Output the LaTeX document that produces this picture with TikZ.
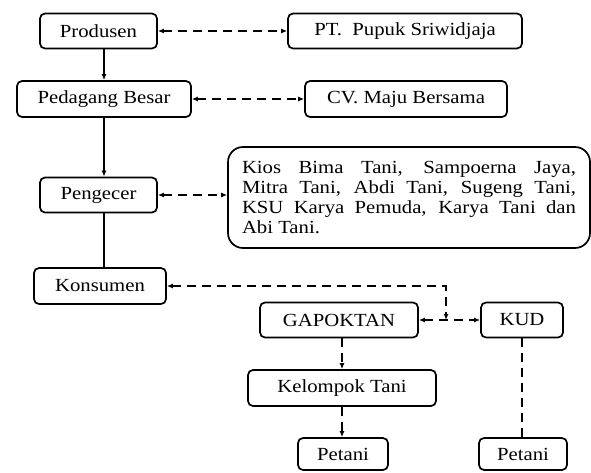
\documentclass[tikz,border=0pt]{standalone}
\usepackage{fontspec}
\setmainfont{Liberation Serif}[FakeStretch=1.12]
\usetikzlibrary{arrows.meta}
\begin{document}
\begin{tikzpicture}[x=1pt,y=-1pt,
  box/.style={draw,line width=1.7pt,rounded corners=5pt,inner sep=0pt,
    font=\fontsize{18.5}{20}\selectfont},
  tip/.style={-{Latex[length=6pt,width=5pt]}},
  dtip/.style={{Latex[length=6pt,width=5pt]}-{Latex[length=6pt,width=5pt]}},
  dsh/.style={line width=1.6pt,dash pattern=on 9pt off 6pt},
  sol/.style={line width=1.6pt}]
\useasboundingbox (0,0) rectangle (591,472);
\node[box,minimum width=117pt,minimum height=35pt] (prod) at (98.5,31) {Produsen};
\node[box,minimum width=234pt,minimum height=35pt] (pt) at (405,31) {PT.\ \ Pupuk Sriwidjaja};
\node[box,minimum width=174pt,minimum height=36pt] (pb) at (104,99) {Pedagang Besar};
\node[box,minimum width=202pt,minimum height=36pt] (cv) at (406,99) {CV. Maju Bersama};
\node[box,minimum width=362pt,minimum height=101pt,rounded corners=15pt,
  text width=334pt,align=justify] (kios) at (409,197.5)
  {Kios Bima Tani, Sampoerna Jaya,\linebreak Mitra Tani, Abdi Tani, Sugeng Tani,\linebreak KSU Karya Pemuda, Karya Tani dan\linebreak Abi Tani.};
\node[box,minimum width=117pt,minimum height=35pt] (peng) at (98.5,195) {Pengecer};
\node[box,minimum width=132pt,minimum height=36pt] (kons) at (100,286) {Konsumen};
\node[box,minimum width=158pt,minimum height=35pt] (gap) at (339,320) {GAPOKTAN};
\node[box,minimum width=82pt,minimum height=35pt] (kud) at (522,320) {KUD};
\node[box,minimum width=188pt,minimum height=36pt] (kel) at (342,388) {Kelompok Tani};
\node[box,minimum width=90pt,minimum height=32pt] (pet1) at (343,454) {Petani};
\node[box,minimum width=88pt,minimum height=32pt] (pet2) at (523,454) {Petani};
\coordinate (j) at (446,320);
% solid chain
\draw[sol,tip] (prod.south -| pb) -- (pb.north);
\draw[sol,tip] (pb.south) -- (peng.north -| pb);
\draw[sol] (peng.south -| pb) -- (kons.north -| pb);
% dashed links
\draw[dsh,dtip] (prod.east) -- (pt.west);
\draw[dsh,dtip] (pb.east) -- (cv.west);
\draw[dsh,dtip] (peng.east) -- (peng.east -| kios.west);
\draw[dsh,dtip] (kons.east) -| (j);
\draw[dsh,dtip] (gap.east) -- (kud.west);
\draw[dsh,tip] (gap.south -| kel) -- (kel.north);
\draw[dsh,tip] (kel.south) -- (pet1.north -| kel);
\draw[dsh] (kud.south) -- (pet2.north -| kud);
\end{tikzpicture}
\end{document}
